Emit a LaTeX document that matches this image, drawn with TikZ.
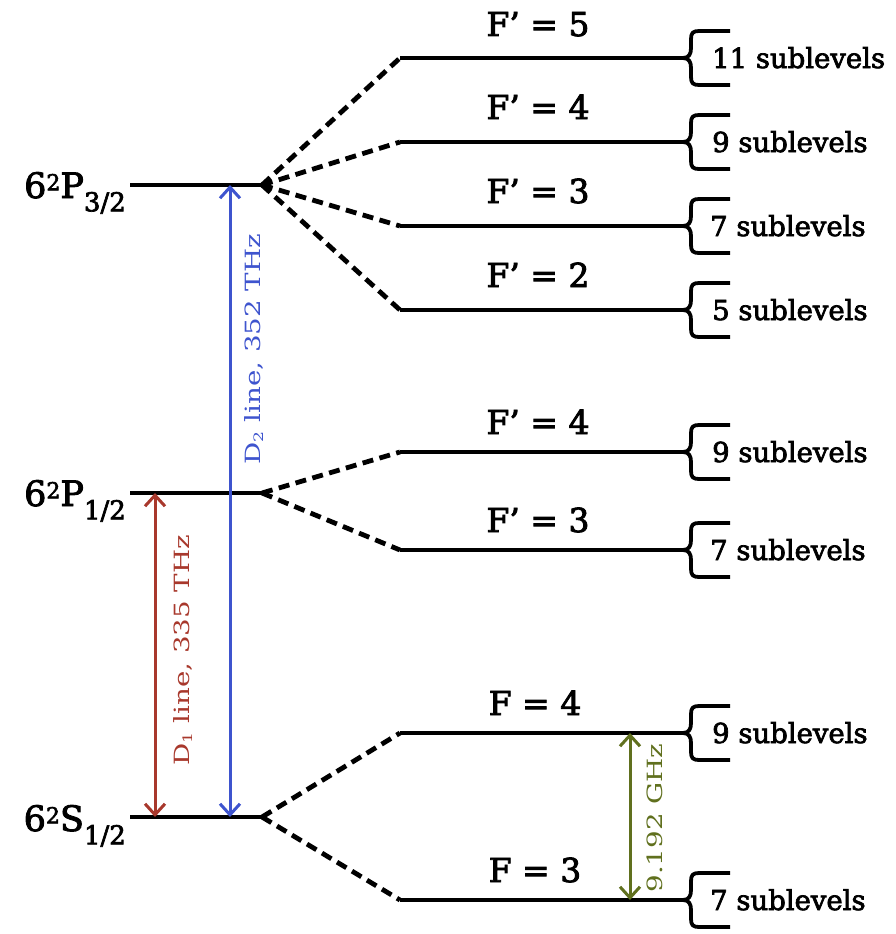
\documentclass[tikz,border=0pt]{standalone}
\usepackage{fontspec}
\setmainfont{DejaVu Serif}
\newfontfamily\semibf{DejaVu Serif}[FakeBold=2.6]
\usetikzlibrary{arrows.meta}
\definecolor{dblue}{RGB}{62,84,206}
\definecolor{dred}{RGB}{168,56,44}
\definecolor{dgreen}{RGB}{96,112,30}
\newcommand\lvsup[1]{\raisebox{0.22em}{\fontsize{22}{22}\selectfont #1}}
\newcommand\lvsub[1]{\raisebox{-0.38em}{\fontsize{26}{26}\selectfont #1}}
\newcommand\dsub[1]{\raisebox{-0.12em}{\fontsize{13}{13}\selectfont #1}}
\begin{document}
\begin{tikzpicture}[x=1pt,y=-1pt,
  level/.style={line width=4.8pt},
  hyper/.style={line width=4.2pt},
  dashline/.style={line width=4.8pt, dash pattern=on 11pt off 6.5pt},
  brace/.style={line width=3.8pt},
  lvlabel/.style={font=\semibf\fontsize{35}{40}\selectfont, inner sep=0pt, anchor=base east},
  flabel/.style={font=\semibf\fontsize{33}{38}\selectfont, inner sep=0pt, anchor=base},
  sublabel/.style={font=\semibf\fontsize{27.5}{30}\selectfont, inner sep=0pt, anchor=base west},
  translabel/.style={font=\fontsize{21}{24}\selectfont, inner sep=0pt, rotate=90},
  trans/.style={line width=3pt, {Straight Barb[length=11pt,width=20pt,line width=3pt]}-{Straight Barb[length=11pt,width=20pt,line width=3pt]}},
  sublev/.pic={
    \draw[brace] (0,0) .. controls (6,0) and (8,-4) .. (8,-10) -- (8,-19)
      .. controls (8,-25) and (10,-27) .. (16,-27) -- (47,-27);
    \draw[brace] (0,0) .. controls (6,0) and (8,4) .. (8,10) -- (8,19)
      .. controls (8,25) and (10,27) .. (16,27) -- (47,27);
  }]
\useasboundingbox (0,0) rectangle (895,934);

% fine-structure levels
\coordinate (P3a) at (130,185); \coordinate (P3b) at (262,185);
\coordinate (P1a) at (130,493); \coordinate (P1b) at (262,493);
\coordinate (S1a) at (130,817); \coordinate (S1b) at (262,817);
\draw[level] (P3a) -- (P3b);
\draw[level] (P1a) -- (P1b);
\draw[level] (S1a) -- (S1b);

\node[lvlabel] (lP3) at (126,198) {6\lvsup{2}P\lvsub{3/2}};
\node[lvlabel] (lP1) at (126,506) {6\lvsup{2}P\lvsub{1/2}};
\node[lvlabel] (lS1) at (126,831) {6\lvsup{2}S\lvsub{1/2}};

% hyperfine levels
\foreach \n/\y in {h5/58,h4/142,h3/226,h2/310,k4/452,k3/550,g4/733,g3/900}{
  \coordinate (\n a) at (400,\y);
  \coordinate (\n b) at (683,\y);
  \draw[hyper] (\n a) -- (\n b);
  \pic at (\n b) {sublev};
}

% dashed connectors
\draw[dashline] (P3b) -- (h5a);
\draw[dashline] (P3b) -- (h4a);
\draw[dashline] (P3b) -- (h3a);
\draw[dashline] (P3b) -- (h2a);
\draw[dashline] (P1b) -- (k4a);
\draw[dashline] (P1b) -- (k3a);
\draw[dashline] (S1b) -- (g4a);
\draw[dashline] (S1b) -- (g3a);

% F labels
\node[flabel] (f5) at (538,36) {F’ = 5};
\node[flabel] (f4) at (538,119) {F’ = 4};
\node[flabel] (f3) at (538,203) {F’ = 3};
\node[flabel] (f2) at (538,287) {F’ = 2};
\node[flabel] (e4) at (538,434) {F’ = 4};
\node[flabel] (e3) at (538,532) {F’ = 3};
\node[flabel] (g4l) at (535,715) {F = 4};
\node[flabel] (g3l) at (535,882) {F = 3};

% sublevel labels
\node[sublabel] (s1) at (712,68) {11 sublevels};
\node[sublabel] (s2) at (712,152) {9 sublevels};
\node[sublabel] (s3) at (710,236) {7 sublevels};
\node[sublabel] (s4) at (712,320) {5 sublevels};
\node[sublabel] (s5) at (712,462) {9 sublevels};
\node[sublabel] (s6) at (710,560) {7 sublevels};
\node[sublabel] (s7) at (712,743) {9 sublevels};
\node[sublabel] (s8) at (710,910) {7 sublevels};

% transitions
\coordinate (d2t) at (230,185); \coordinate (d2b) at (230,817);
\coordinate (d1t) at (155,493); \coordinate (d1b) at (155,817);
\coordinate (hft) at (630,733); \coordinate (hfb) at (630,900);
\draw[trans, dblue] (d2t) -- (d2b);
\draw[trans, dred] (d1t) -- (d1b);
\draw[trans, dgreen] (hft) -- (hfb);

\node[translabel, text=dblue] (ld2) at (254,349) {\scalebox{1.32}[1]{D\dsub{2} line, 352 THz}};
\node[translabel, text=dred] (ld1) at (183,650) {\scalebox{1.32}[1]{D\dsub{1} line, 335 THz}};
\node[translabel, text=dgreen] (lhf) at (655,818) {\scalebox{1.32}[1]{9.192 GHz}};
\end{tikzpicture}
\end{document}
